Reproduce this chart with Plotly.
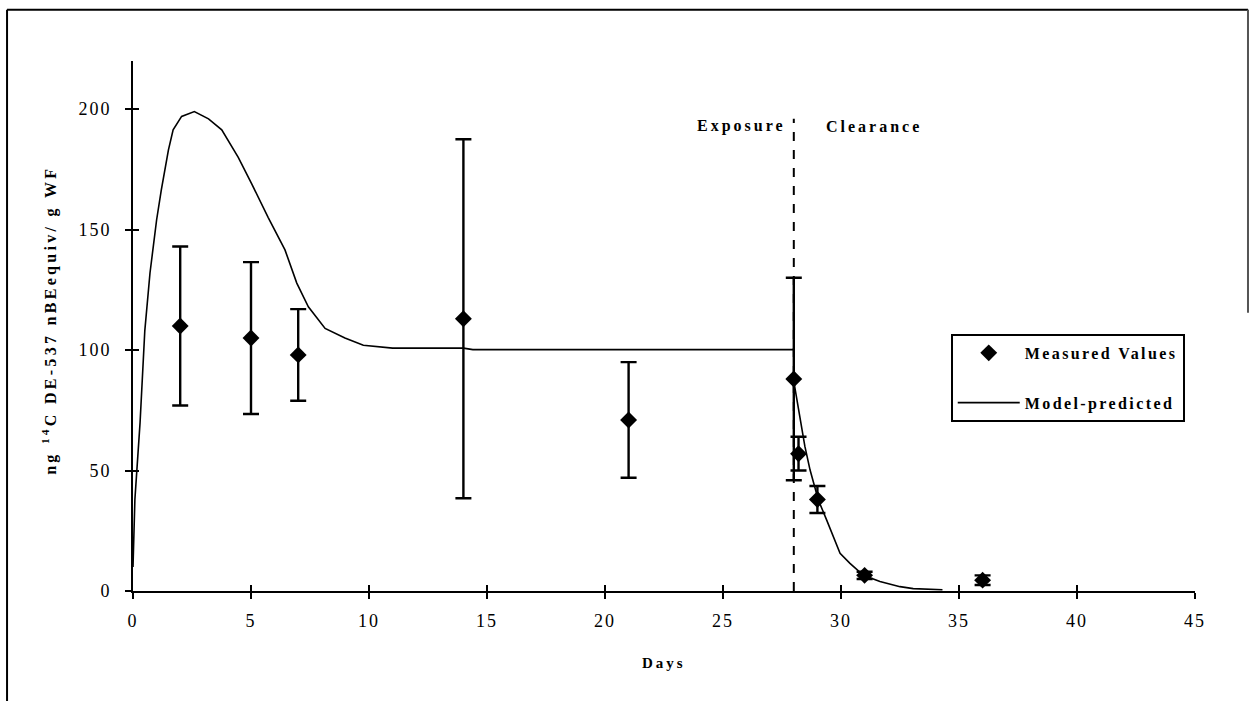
import plotly.graph_objects as go

# ---------------- data ----------------
measured_days = [2, 5, 7, 14, 21, 28, 28.2, 29, 31, 36]
measured_values = [110, 105, 98, 113, 71, 88, 57, 38, 6.5, 4.5]
measured_err = [33, 31.5, 19, 74.5, 24, 42, 7, 5.6, 1.5, 2]

model_days = [0, 0.08, 0.3, 0.5, 0.72, 1.0, 1.2, 1.5, 1.7, 2.06, 2.6, 3.2, 3.76,
              4.46, 5.03, 5.73, 6.44, 6.94, 7.43, 8.14, 8.98, 9.76, 11.0, 14.0,
              14.4, 28.0, 28.0, 28.23, 28.47, 28.69, 29.04, 29.39, 29.96, 30.38,
              30.95, 31.65, 32.5, 33.06, 34.3]
model_values = [10, 38, 70, 108, 132, 154, 166.5, 183, 191.4, 197, 199, 196, 191.4,
                180, 169, 155, 141.6, 127.8, 118, 109, 105, 102, 100.8, 100.8,
                100.2, 100.2, 87, 73, 60, 50.2, 37.8, 29.5, 15.6, 11.5,
                6.5, 3.9, 1.8, 1.0, 0.5]

x_ticks = [0, 5, 10, 15, 20, 25, 30, 35, 40, 45]
y_ticks = [0, 50, 100, 150, 200]
x_tick_labels = ["0", "5", "10", "15", "20", "25", "30", "35", "40", "45"]
y_tick_labels = ["0", "50", "100", "150", "200"]

phase_change_day = 28
phase_line_top = 196
phase_labels = ["Exposure", "Clearance"]
phase_label_days = [25.8, 31.4]
phase_label_level = 193
series_names = ["Measured Values", "Model-predicted"]
x_title = "Days"
y_title = "ng <sup>14</sup>C DE-537 nBEequiv/ g WF"

SERIF = "Liberation Serif, Times New Roman, serif"


def spaced(t, px):
    return '<span style="letter-spacing:%spx">%s</span>' % (px, t)


fig = go.Figure()

fig.add_trace(go.Scatter(
    x=measured_days, y=measured_values,
    mode="markers",
    name=spaced("<b>" + series_names[0] + "</b>", 2.4),
    legendgroup="a",
    marker=dict(symbol="diamond", size=13, color="black"),
    error_y=dict(type="data", array=measured_err, visible=True,
                 color="black", thickness=2.4, width=8),
))

fig.add_trace(go.Scatter(
    x=model_days, y=model_values,
    mode="lines",
    name=spaced("<b>" + series_names[1] + "</b>", 2.4),
    legendgroup="b",
    line=dict(color="black", width=1.6),
))

# helper trace for crossing-tick overlay axes
fig.add_trace(go.Scatter(x=[None], y=[None], xaxis="x2", yaxis="y2",
                         showlegend=False, hoverinfo="skip"))

# vertical dashed line marking end of exposure
fig.add_shape(type="line", x0=phase_change_day, x1=phase_change_day,
              y0=0, y1=phase_line_top, xref="x", yref="y",
              line=dict(color="black", width=2, dash="dash"))

for lbl, d in zip(phase_labels, phase_label_days):
    fig.add_annotation(x=d, y=phase_label_level, xref="x", yref="y",
                       xanchor="center", yanchor="middle",
                       text=spaced("<b>" + lbl + "</b>", 3),
                       showarrow=False, font=dict(family=SERIF, size=16, color="black"))

# axis titles as annotations
fig.add_annotation(x=-0.078, y=0.51, xref="paper", yref="paper", textangle=-90,
                   xanchor="center", yanchor="middle",
                   text=spaced("<b>" + y_title + "</b>", 3.3), showarrow=False,
                   font=dict(family=SERIF, size=16, color="black"))
fig.add_annotation(x=0.5, y=-0.135, xref="paper", yref="paper",
                   xanchor="center", yanchor="middle",
                   text=spaced("<b>" + x_title + "</b>", 3), showarrow=False,
                   font=dict(family=SERIF, size=15, color="black"))

# scanned page frame lines
frame = dict(color="black", width=2)
fig.add_shape(type="line", xref="paper", yref="paper", x0=-0.1186, x1=1.05, y0=1.0966, y1=1.0966, line=frame)
fig.add_shape(type="line", xref="paper", yref="paper", x0=-0.1186, x1=-0.1186, y0=1.0966, y1=-0.21, line=frame)
fig.add_shape(type="line", xref="paper", yref="paper", x0=1.0499, x1=1.0499, y0=1.0966, y1=0.525,
              line=dict(color="#555", width=2))

axis_common = dict(showgrid=False, zeroline=False, linecolor="black", linewidth=2,
                   tickcolor="black", tickwidth=1.5,
                   tickfont=dict(family=SERIF, size=18, color="black"))

fig.update_layout(
    width=1251, height=701,
    margin=dict(l=133, r=56, t=61, b=110),
    paper_bgcolor="white", plot_bgcolor="white",
    showlegend=True,
    xaxis=dict(range=[0, 45], tickmode="array", tickvals=x_ticks,
               ticktext=[spaced(t, 2) for t in x_tick_labels],
               ticks="outside", ticklen=6, showline=True, ticklabelstandoff=6,
               **axis_common),
    yaxis=dict(range=[0, 220], tickmode="array", tickvals=y_ticks,
               ticktext=[spaced(t, 2) for t in y_tick_labels],
               ticks="outside", ticklen=6, showline=True, ticklabelstandoff=10,
               **axis_common),
    xaxis2=dict(range=[0, 45], overlaying="x", anchor="y2", side="bottom",
                tickmode="array", tickvals=x_ticks, ticks="inside", ticklen=6,
                tickcolor="black", tickwidth=1.5, showticklabels=False,
                showline=False, showgrid=False, zeroline=False),
    yaxis2=dict(range=[0, 220], overlaying="y", anchor="x2", side="left",
                tickmode="array", tickvals=y_ticks, ticks="inside", ticklen=6,
                tickcolor="black", tickwidth=1.5, showticklabels=False,
                showline=False, showgrid=False, zeroline=False),
    legend=dict(x=0.770, y=0.485, xanchor="left", yanchor="top",
                bordercolor="black", borderwidth=2, bgcolor="white",
                font=dict(family=SERIF, size=16, color="black"),
                itemwidth=62, tracegroupgap=26, traceorder="grouped",
                entrywidth=200, entrywidthmode="pixels"),
)

fig.write_html("out.html")
